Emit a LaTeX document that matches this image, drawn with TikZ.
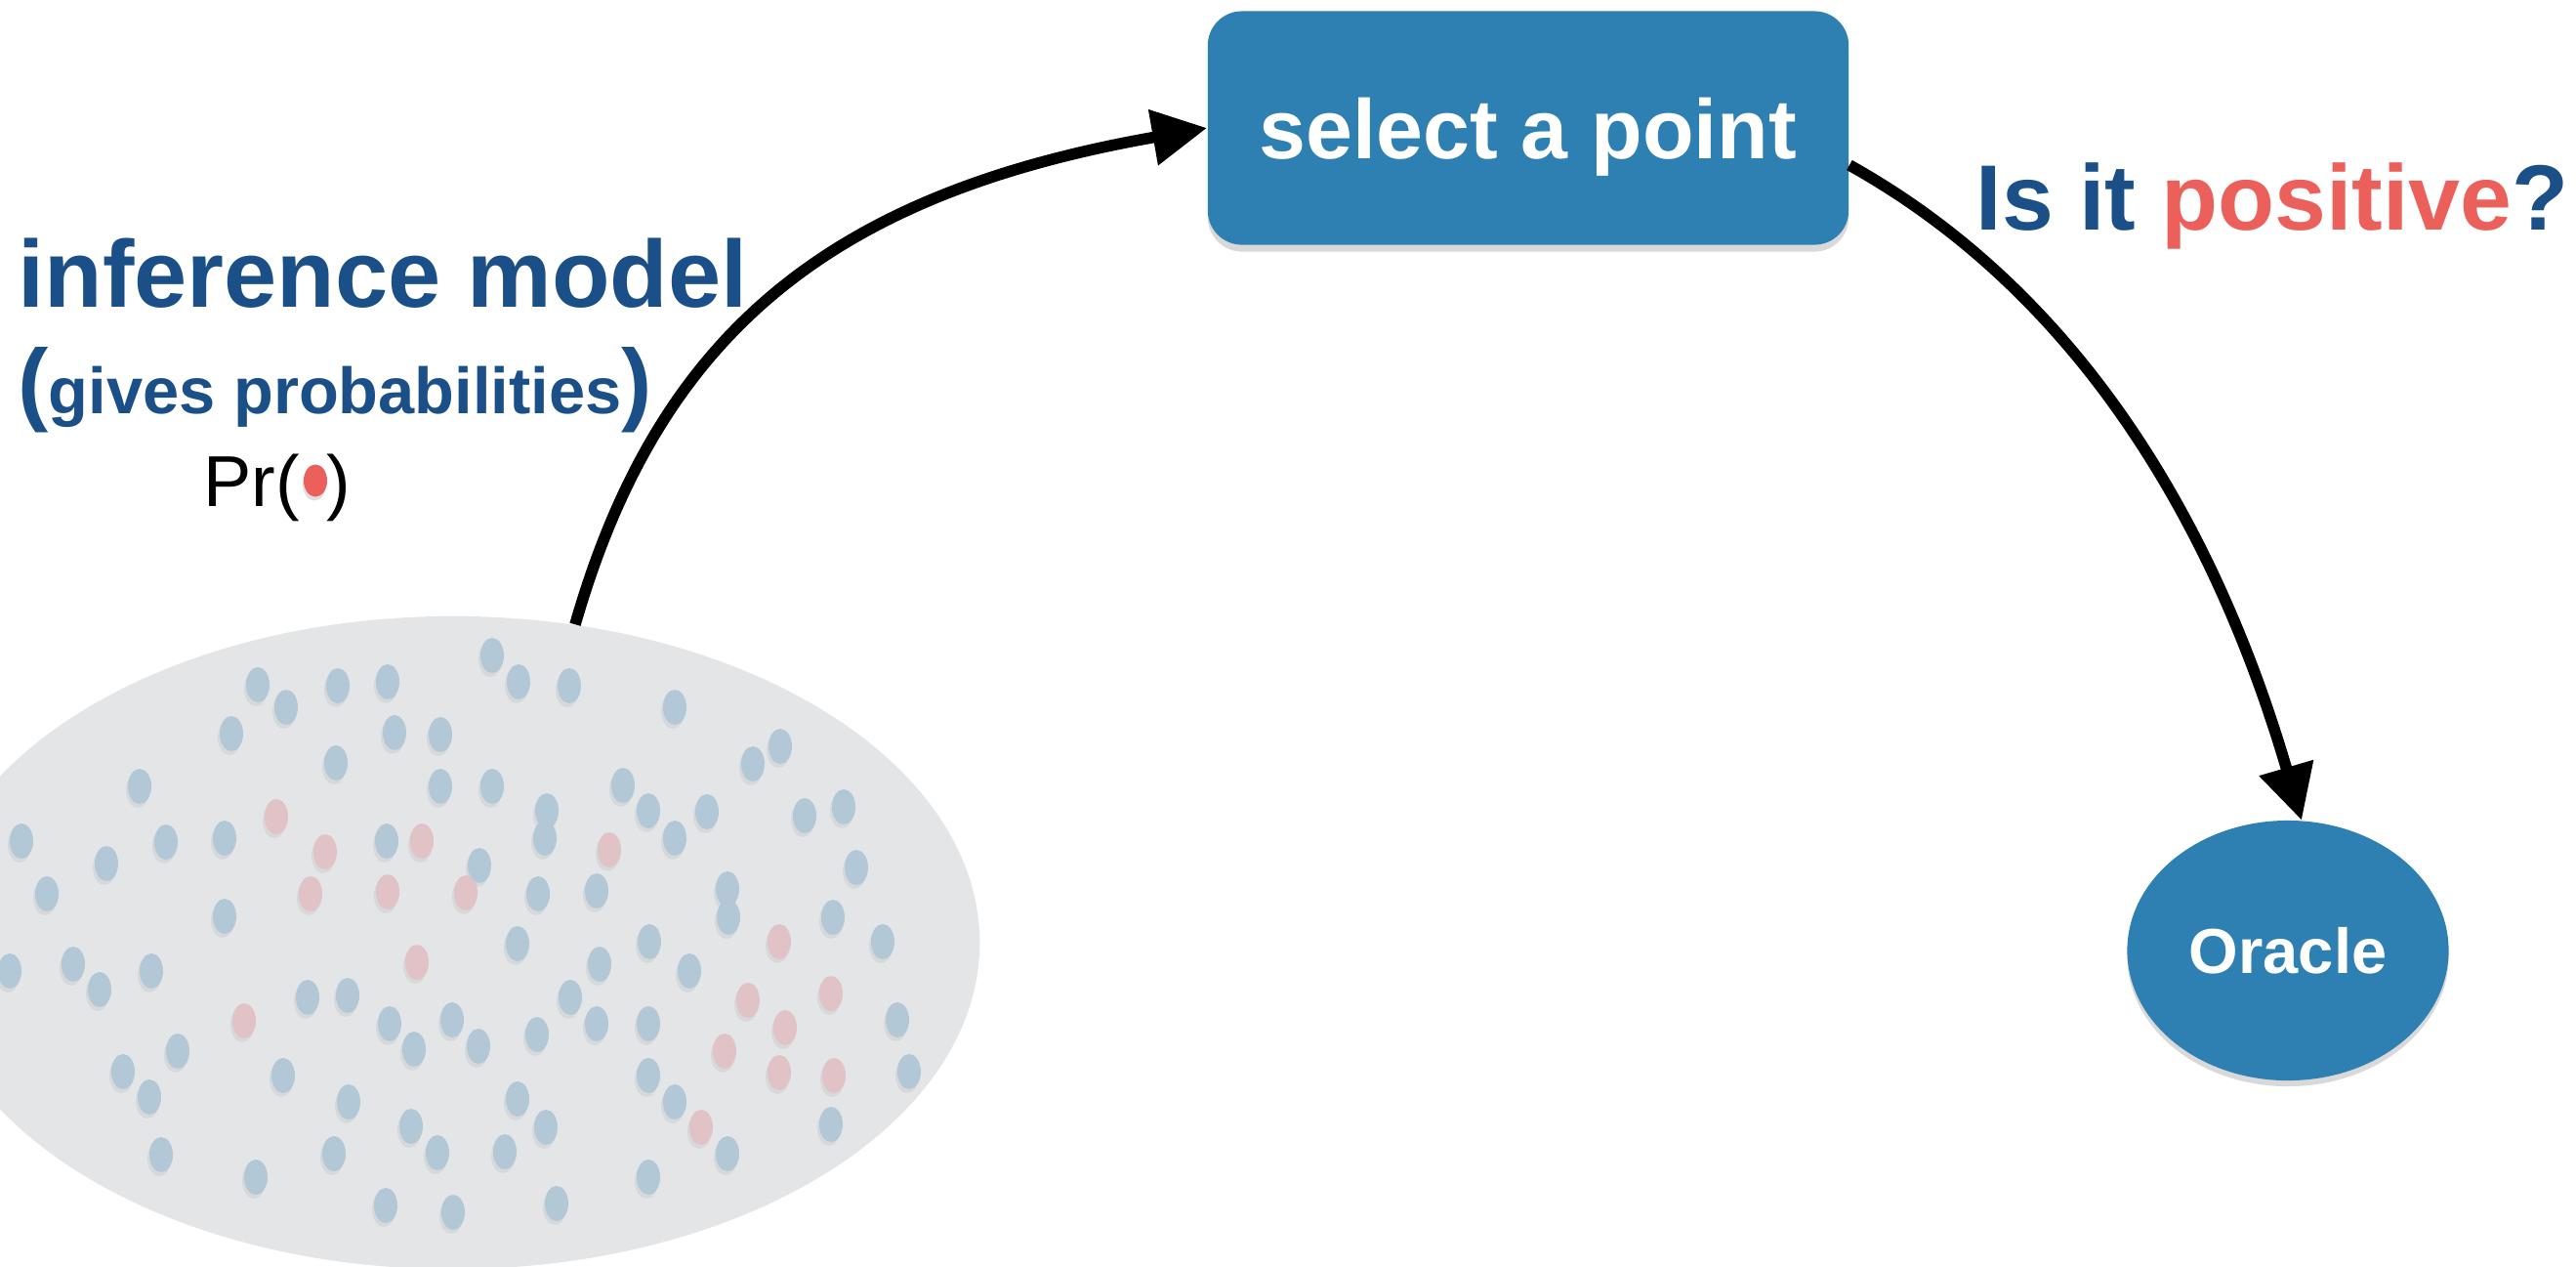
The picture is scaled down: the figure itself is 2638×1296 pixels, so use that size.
\documentclass[tikz,border=0pt]{standalone}
\usepackage{fontspec}
\setmainfont{Liberation Sans}
\usetikzlibrary{arrows.meta,shapes.geometric,shadows,calc}

\definecolor{inkblue}{HTML}{1B4F87}
\definecolor{coral}{HTML}{EB605A}
\definecolor{boxblue}{HTML}{2E80B3}
\definecolor{poolgray}{HTML}{E4E5E7}
\definecolor{dotblue}{HTML}{B3C8D7}
\definecolor{dotpink}{HTML}{E0C2C7}

\tikzset{
  label text/.style={inner sep=0pt, anchor=base west, text=inkblue},
  bluebox/.style={rectangle, rounded corners=0.35cm, fill=boxblue, text=white,
    minimum width=6.56cm, minimum height=2.39cm, inner sep=0pt, text depth=0pt,
    font=\bfseries\fontsize{24.5}{29}\selectfont,
    drop shadow={shadow xshift=0pt, shadow yshift=-0.07cm, opacity=0.3}},
  oraclenode/.style={ellipse, fill=boxblue, text=white,
    minimum width=3.29cm, minimum height=2.66cm, inner sep=0pt,
    font=\bfseries\fontsize{18.5}{22}\selectfont,
    drop shadow={shadow xshift=0pt, shadow yshift=-0.06cm, opacity=0.3}},
  pool/.style={ellipse, fill=poolgray, minimum width=10.78cm, minimum height=6.68cm, inner sep=0pt},
  flow/.style={line width=3.3pt, -{Triangle[length=5.6mm,width=5.5mm]}},
  dotshade/.style={drop shadow={shadow xshift=-0.02cm, shadow yshift=-0.04cm, opacity=0.12}}
}

\begin{document}
\begin{tikzpicture}[x=0.01cm, y=-0.01cm]
\useasboundingbox (0,0) rectangle (2638,1296);
\clip (0,0) rectangle (2638,1296);

% pool of candidate points
\node[pool] (pool) at (464,965) {};

\foreach \px/\py in {504/671, 264/701, 346/702, 397/698, 531/698, 583/702, 293/724, 691/724,
  237/751, 404/750, 451/752, 344/781, 799/764, 771/782, 143/805, 451/805, 504/805, 638/804,
  560/830, 664/830, 724/831, 824/835, 864/826, 22/861, 170/862, 230/858, 396/861, 558/858,
  691/858, 109/884, 491/886, 877/888, 48/915, 551/915, 611/912, 745/910, 230/938, 746/939,
  853/939, 530/966, 665/964, 904/964, 10/994, 75/987, 102/1013, 155/994, 614/987, 706/994,
  315/1021, 356/1019, 584/1021, 399/1048, 463/1044, 611/1048, 664/1048, 919/1044, 424/1074,
  490/1071, 550/1059, 182/1076, 126/1097, 290/1101, 664/1101, 931/1097, 153/1123, 357/1128,
  530/1125, 691/1128, 421/1153, 559/1154, 851/1151, 165/1182, 342/1181, 448/1180, 517/1179,
  745/1181, 262/1205, 664/1205, 395/1234, 464/1241, 570/1232}
  \path[fill=dotblue, dotshade] (\px,\py) ellipse [x radius=0.12cm, y radius=0.18cm];

\foreach \px/\py in {283/836, 333/872, 432/861, 624/870, 318/915, 397/913, 477/914, 427/985,
  798/964, 250/1045, 766/1024, 851/1017, 804/1052, 742/1076, 798/1098, 854/1101, 718/1154}
  \path[fill=dotpink, dotshade] (\px,\py) ellipse [x radius=0.12cm, y radius=0.18cm];

% labels of the model
\node[label text, font=\bfseries\fontsize{27.7}{33}\selectfont] (infer) at (18,314) {inference model};
\node[label text] (gives) at (18,423)
  {{\bfseries\fontsize{26.7}{32}\selectfont(}{\bfseries\fontsize{19}{23}\selectfont gives probabilities}{\bfseries\fontsize{26.7}{32}\selectfont)}};
\node[inner sep=0pt, anchor=base west, font=\fontsize{21}{25}\selectfont] (prleft) at (208,518) {Pr(};
\path[fill=coral, drop shadow={shadow xshift=-0.01cm, shadow yshift=-0.04cm, opacity=0.25}]
  (323,492) ellipse [x radius=0.12cm, y radius=0.165cm];
\node[inner sep=0pt, anchor=base west, font=\fontsize{21}{25}\selectfont] (prright) at (334,518) {)};

% selection step and oracle
\node[bluebox] (sel) at (1565,131) {select a point};
\node[oraclenode] (oracle) at (2343,973) {Oracle};

\node[label text, font=\bfseries\fontsize{27}{32}\selectfont] (ask) at (2023,235)
  {Is it \textcolor{coral}{positive}?};

% connectors
\draw[flow] (pool.69.4) .. controls +(85,-296) and +(-388,68) .. (sel.west);
\draw[flow] ($(sel.east)+(0,38)$) .. controls +(235,131) and +(-89,-304) .. (oracle.84);
\end{tikzpicture}
\end{document}
